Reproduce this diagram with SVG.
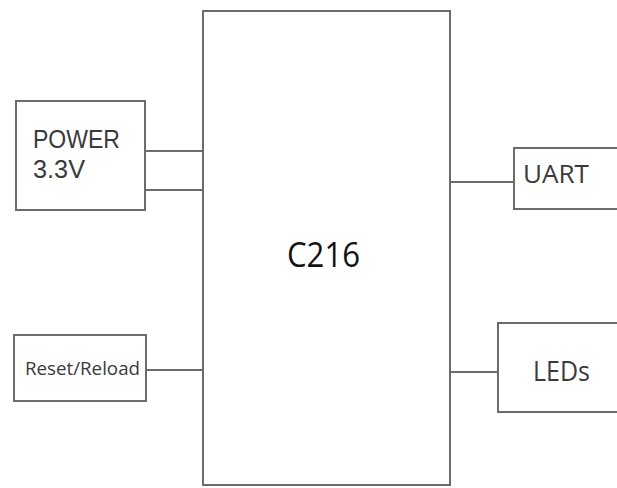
<svg xmlns="http://www.w3.org/2000/svg" width="617" height="488" viewBox="0 0 617 488">
<style>
.box{fill:#fff;stroke:#6b6b6b;stroke-width:2}
.wire{stroke:#6b6b6b;stroke-width:2;fill:none}
.t{font-family:"Open Sans","Noto Sans","Liberation Sans",sans-serif;fill:#3a3a3a}
.t2{font-family:"Liberation Sans",Arial,sans-serif;fill:#3a3a3a}
</style>
<rect width="617" height="488" fill="#fff"/>
<g id="connectors">
<line class="wire" x1="145" y1="151" x2="203" y2="151"/>
<line class="wire" x1="145" y1="190" x2="203" y2="190"/>
<line class="wire" x1="146" y1="370" x2="203" y2="370"/>
<line class="wire" x1="450" y1="182" x2="514" y2="182"/>
<line class="wire" x1="450" y1="372" x2="498" y2="372"/>
</g>
<g id="c216">
<rect class="box" x="203" y="11" width="247" height="474"/>
<text class="t" x="287" y="267" font-size="34" style="fill:#111" textLength="73" lengthAdjust="spacingAndGlyphs">C216</text>
</g>
<g id="power">
<rect class="box" x="16" y="101" width="129" height="109"/>
<text class="t2" x="33" y="148" font-size="26" textLength="87" lengthAdjust="spacingAndGlyphs">POWER</text>
<text class="t2" x="33" y="178" font-size="26" textLength="52" lengthAdjust="spacingAndGlyphs">3.3V</text>
</g>
<g id="reset">
<rect class="box" x="14" y="335" width="132" height="66"/>
<text class="t" x="25" y="375" font-size="18" textLength="115" lengthAdjust="spacingAndGlyphs">Reset/Reload</text>
</g>
<g id="uart">
<rect class="box" x="514" y="148" width="120" height="61"/>
<text class="t" x="523" y="183" font-size="26" textLength="66" lengthAdjust="spacingAndGlyphs">UART</text>
</g>
<g id="leds">
<rect class="box" x="498" y="323" width="130" height="89"/>
<text class="t" x="533" y="381" font-size="27" textLength="57" lengthAdjust="spacingAndGlyphs">LEDs</text>
</g>
</svg>
